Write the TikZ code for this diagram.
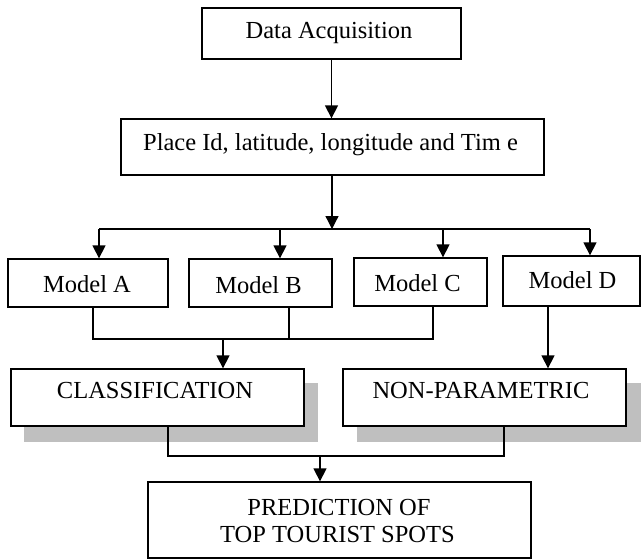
\documentclass[tikz,border=0pt]{standalone}
\usepackage{fontspec}
\setmainfont{Liberation Serif}
\usetikzlibrary{arrows.meta}
\begin{document}
\begin{tikzpicture}[x=1pt,y=-1pt,
  box/.style={draw, line width=1.3pt, fill=white, rectangle, inner sep=0pt},
  shadowfill/.style={fill=black!25, draw=none},
  lbl/.style={font=\fontsize{24.5}{28}\selectfont, inner sep=0pt, anchor=base},
  conn/.style={line width=1.3pt},
  arr/.style={conn, -{Triangle[width=13pt,length=13pt]}}]
\useasboundingbox[fill=white] (0,0) rectangle (641,560);

% boxes
\node[box, minimum width=259pt, minimum height=51pt] (da) at (331.5,33.5) {};
\node[box, minimum width=423pt, minimum height=56pt] (pl) at (332.5,147) {};
\node[box, minimum width=160pt, minimum height=48pt] (ma) at (88,283) {};
\node[box, minimum width=143pt, minimum height=48pt] (mb) at (260.5,283) {};
\node[box, minimum width=133pt, minimum height=48pt] (mc) at (420.5,282) {};
\node[box, minimum width=137pt, minimum height=50pt] (md) at (571.5,281) {};

% shadows
\fill[shadowfill] (24,383) rectangle (318,442);
\fill[shadowfill] (357,383) rectangle (641,442);
\node[box, minimum width=293pt, minimum height=57pt] (cls) at (157.5,397.5) {};
\node[box, minimum width=283pt, minimum height=57pt] (np) at (484.5,397.5) {};
\node[box, minimum width=383pt, minimum height=76pt] (pr) at (339.5,520) {};

% texts
\node[lbl] (tda) at (329,38) {Data Acquisition};
\node[lbl] (tpl) at (330.5,150) {Place Id, latitude, longitude and Tim e};
\node[lbl] (tma) at (87,292) {Model A};
\node[lbl] (tmb) at (258.5,293) {Model B};
\node[lbl] (tmc) at (417.5,291) {Model C};
\node[lbl] (tmd) at (572.5,288) {Model D};
\node[lbl] (tcl) at (155,398) {CLASSIFICATION};
\node[lbl] (tnp) at (481,398) {NON-PARAMETRIC};
\node[lbl] (tp1) at (339,515) {PREDICTION OF};
\node[lbl] (tp2) at (337.5,542) {TOP TOURIST SPOTS};

% connectors
\draw[arr] (da.south) -- (da.south |- pl.north);
\coordinate (br) at (332,229);
\coordinate (bA) at (99,229);
\coordinate (bB) at (280,229);
\coordinate (bC) at (443,229);
\coordinate (bD) at (590,229);
\draw[arr] (pl.south -| br) -- (br);
\draw[conn] (bA) -- (bD);
\draw[arr] (bA) -- (bA |- ma.north);
\draw[arr] (bB) -- (bB |- mb.north);
\draw[arr] (bC) -- (bC |- mc.north);
\draw[arr] (bD) -- (bD |- md.north);

\coordinate (jA) at (93,339);
\coordinate (jB) at (289,339);
\coordinate (jC) at (433,339);
\coordinate (jM) at (223,339);
\draw[conn] (jA |- ma.south) -- (jA) -- (jC) -- (jC |- mc.south);
\draw[conn] (jB |- mb.south) -- (jB);
\draw[arr] (jM) -- (jM |- cls.north);

\coordinate (dX) at (548,339);
\draw[arr] (dX |- md.south) -- (dX |- np.north);

\coordinate (kC) at (168,456);
\coordinate (kN) at (504,456);
\coordinate (kM) at (320,456);
\draw[conn] (kC |- cls.south) -- (kC) -- (kN) -- (kN |- np.south);
\draw[arr] (kM) -- (kM |- pr.north);
\end{tikzpicture}
\end{document}
